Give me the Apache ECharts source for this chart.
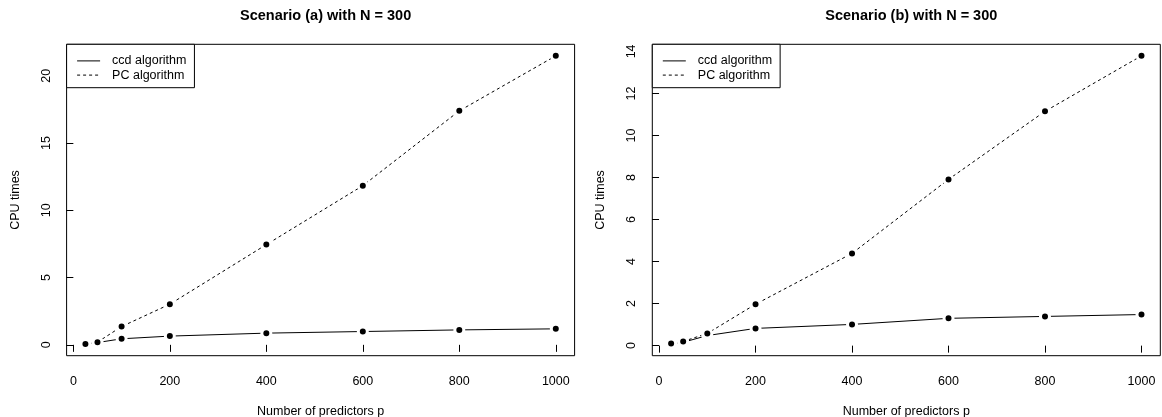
<!DOCTYPE html>
<html>
<head>
<meta charset="utf-8">
<script src="https://cdn.jsdelivr.net/npm/echarts@6/dist/echarts.min.js"></script>
<style>
  html, body { margin: 0; padding: 0; background: #fff; }
  #chart { width: 1162px; height: 417px; }
</style>
</head>
<body>
<div id="chart"></div>
<script>
const FONT = '"Liberation Sans", Arial, sans-serif'

// number of predictors p
const predictors = [25, 50, 100, 200, 400, 600, 800, 1000]
const xTicks = [0, 200, 400, 600, 800, 1000]

// scenario (a)
const ccdA = [0.05, 0.17, 0.45, 0.65, 0.87, 0.99, 1.11, 1.19]
const pcA = [0.06, 0.2, 1.36, 3.02, 7.45, 11.83, 17.39, 21.48]
const yTicksA = [0, 5, 10, 15, 20]

// scenario (b)
const ccdB = [0.07, 0.16, 0.48, 0.82, 1.01, 1.3, 1.39, 1.48]
const pcB = [0.1, 0.2, 0.58, 1.97, 4.39, 7.91, 11.15, 13.79]
const yTicksB = [0, 2, 4, 6, 8, 10, 12, 14]

const titles = ['Scenario (a) with N = 300', 'Scenario (b) with N = 300']

const pairs = (xs, ys) => xs.map((x, i) => [x, ys[i]])

// R pads the data range by 4% on each side
const padRange = (vals) => {
  const lo = Math.min(...vals), hi = Math.max(...vals)
  const d = (hi - lo) * 0.04
  return [lo - d, hi + d]
}

const chart = echarts.init(document.getElementById('chart'))

const grids = [
  { left: 66.6, top: 44.3, width: 508, height: 311.4 },
  { left: 652.3, top: 44.3, width: 508, height: 311.4 },
]

const xRange = padRange(predictors)
const yRanges = [padRange(ccdA.concat(pcA)), padRange(ccdB.concat(pcB))]
const yTickSets = [yTicksA, yTicksB]

const makeSeries = (name, data, idx, dashed) => ({
  name,
  type: 'line',
  xAxisIndex: idx,
  yAxisIndex: idx,
  data,
  symbol: 'circle',
  symbolSize: 9,
  itemStyle: { color: '#000', borderColor: '#fff', borderWidth: 3 },
  lineStyle: { color: '#000', width: 1, type: dashed ? [3, 3] : 'solid' },
  emphasis: { disabled: true },
})

const option = {
  animation: false,
  backgroundColor: '#fff',
  textStyle: { fontFamily: FONT },
  title: grids.map((g, i) => ({
    text: titles[i],
    left: g.left + g.width / 2,
    textAlign: 'center',
    top: 3,
    textStyle: { fontFamily: FONT, fontSize: 14.5, fontWeight: 'bold', color: '#000' },
  })),
  legend: grids.map((g) => ({
    orient: 'vertical',
    left: g.left,
    top: g.top,
    data: ['ccd algorithm', 'PC algorithm'],
    backgroundColor: '#fff',
    borderColor: '#000',
    borderWidth: 1,
    borderRadius: 0,
    padding: [10, 8, 6, 10],
    itemWidth: 23,
    itemHeight: 14,
    itemGap: 1,
    itemStyle: { opacity: 0 },
    lineStyle: { width: 1 },
    selectedMode: false,
    textStyle: { fontFamily: FONT, fontSize: 12.5, color: '#000', padding: [0, 0, 0, 7] },
  })),
  grid: grids.map((g) => ({
    left: g.left, top: g.top, width: g.width, height: g.height,
    outerBoundsMode: 'none',
    containLabel: false,
    show: true, borderColor: '#000', borderWidth: 1, backgroundColor: 'transparent',
  })),
  xAxis: grids.map((g, i) => ({
    type: 'value',
    gridIndex: i,
    min: xRange[0],
    max: xRange[1],
    name: 'Number of predictors p',
    nameLocation: 'middle',
    nameGap: 49,
    nameTextStyle: { fontFamily: FONT, fontSize: 12.5, color: '#000' },
    axisLine: { show: false },
    splitLine: { show: false },
    axisTick: { show: true, length: 7, customValues: xTicks, lineStyle: { color: '#000' } },
    axisLabel: {
      customValues: xTicks, margin: 19, fontFamily: FONT, fontSize: 12.5, color: '#000',
      formatter: (v) => String(v),
    },
  })),
  yAxis: grids.map((g, i) => ({
    type: 'value',
    gridIndex: i,
    min: yRanges[i][0],
    max: yRanges[i][1],
    name: 'CPU times',
    nameLocation: 'middle',
    nameGap: 45,
    nameTextStyle: { fontFamily: FONT, fontSize: 12.5, color: '#000' },
    axisLine: { show: false },
    splitLine: { show: false },
    axisTick: { show: true, length: 7, customValues: yTickSets[i], lineStyle: { color: '#000' } },
    axisLabel: {
      customValues: yTickSets[i], rotate: 90, margin: 14, fontFamily: FONT, fontSize: 12.5, color: '#000',
      formatter: (v) => String(v),
    },
  })),
  series: [
    makeSeries('ccd algorithm', pairs(predictors, ccdA), 0, false),
    makeSeries('PC algorithm', pairs(predictors, pcA), 0, true),
    makeSeries('ccd algorithm', pairs(predictors, ccdB), 1, false),
    makeSeries('PC algorithm', pairs(predictors, pcB), 1, true),
  ],
}

chart.setOption(option)
</script>
</body>
</html>
